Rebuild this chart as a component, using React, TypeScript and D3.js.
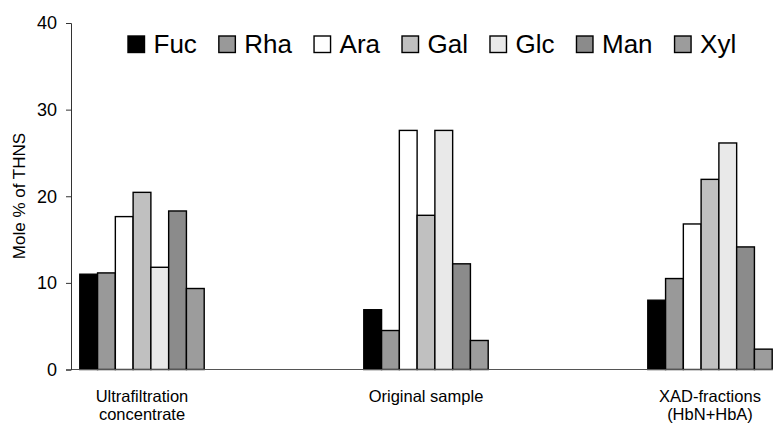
import React, { useEffect, useRef } from "react";
import * as d3 from "d3";

const categories = ["Ultrafiltration\nconcentrate", "Original sample", "XAD-fractions\n(HbN+HbA)"];
const series = ["Fuc", "Rha", "Ara", "Gal", "Glc", "Man", "Xyl"];
const fucValues = [11.0, 6.9, 8.0];
const rhaValues = [11.15, 4.5, 10.5];
const araValues = [17.65, 27.6, 16.8];
const galValues = [20.45, 17.8, 21.95];
const glcValues = [11.8, 27.6, 26.15];
const manValues = [18.3, 12.2, 14.15];
const xylValues = [9.35, 3.35, 2.35];
const yTicks = [0, 10, 20, 30, 40];
const seriesColors = ["#000000", "#999999", "#ffffff", "#c0c0c0", "#e9e9e9", "#8b8b8b", "#9c9c9c"];

const W = 773;
const H = 426;
const FONT = "Liberation Sans, Arial, sans-serif";

export default function App() {
  const ref = useRef<SVGSVGElement | null>(null);

  useEffect(() => {
    const svg = d3.select(ref.current);
    svg.selectAll("*").remove();

    const valuesBySeries = [fucValues, rhaValues, araValues, galValues, glcValues, manValues, xylValues];
    const axisX = 71;
    const y = d3.scaleLinear().domain([0, 40]).range([369.5, 23]);
    const x0 = d3.scaleBand<number>().domain(d3.range(categories.length)).range([0, 852]).padding(0);
    const groupWidth = 124.4;
    const x1 = d3.scaleBand<string>().domain(series).range([0, groupWidth]).padding(0);
    const groupOffset = (x0.bandwidth() - groupWidth) / 2;

    // bars
    categories.forEach((_, ci) => {
      const g = svg.append("g").attr("transform", `translate(${x0(ci)! + groupOffset},0)`);
      series.forEach((s, si) => {
        const v = valuesBySeries[si][ci];
        g.append("rect")
          .attr("x", x1(s)!)
          .attr("y", y(v))
          .attr("width", x1.bandwidth())
          .attr("height", y(0) - y(v))
          .attr("fill", seriesColors[si])
          .attr("stroke", "#000")
          .attr("stroke-width", 1.4);
      });
    });

    // x axis line
    svg.append("line")
      .attr("x1", axisX).attr("x2", W)
      .attr("y1", y(0)).attr("y2", y(0))
      .attr("stroke", "#555").attr("stroke-width", 1);

    // y axis
    const yAxis = d3.axisLeft(y).tickValues(yTicks).tickSize(5).tickPadding(9).tickFormat(d3.format("d"));
    const ya = svg.append("g").attr("transform", `translate(${axisX},0)`).call(yAxis);
    ya.attr("font-family", null).attr("font-size", null);
    ya.select(".domain").attr("stroke", "#333");
    ya.selectAll(".tick line").attr("stroke", "#333");
    ya.selectAll(".tick text")
      .style("font-family", FONT)
      .style("font-size", "18px")
      .attr("fill", "#000");

    // y label
    svg.append("text")
      .attr("transform", `translate(25,196) rotate(-90)`)
      .attr("text-anchor", "middle")
      .style("font-family", FONT)
      .style("font-size", "17px")
      .text("Mole % of THNS");

    // category labels
    categories.forEach((c, ci) => {
      const cx = x0(ci)! + x0.bandwidth() / 2;
      const lines = c.split("\n");
      const t = svg.append("text")
        .attr("text-anchor", "middle")
        .style("font-family", FONT)
        .style("font-size", "16.5px");
      lines.forEach((ln, li) => {
        t.append("tspan").attr("x", cx).attr("y", 401.5 + li * 18.5).text(ln);
      });
    });

    // legend
    const legend = svg.append("g");
    let lx = 128;
    const baseline = 52.5;
    const box = 16.5;
    series.forEach((s, si) => {
      legend.append("rect")
        .attr("x", lx).attr("y", baseline - box)
        .attr("width", box).attr("height", box)
        .attr("fill", seriesColors[si])
        .attr("stroke", "#000").attr("stroke-width", 1.4);
      const t = legend.append("text")
        .attr("x", lx + box + 9)
        .attr("y", baseline)
        .style("font-family", FONT)
        .style("font-size", "26px")
        .text(s);
      const w = (t.node() as SVGTextElement).getComputedTextLength();
      lx = lx + box + 9 + w + 22;
    });
  }, []);

  return (
    <svg
      ref={ref}
      width={W}
      height={H}
      style={{ position: "absolute", left: 0, top: 0, background: "#fff" }}
    />
  );
}
